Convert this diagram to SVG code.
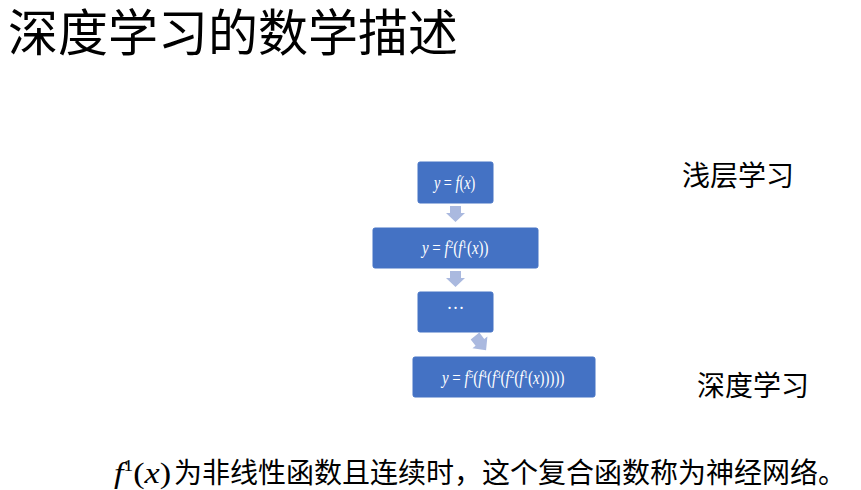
<svg xmlns="http://www.w3.org/2000/svg" width="861" height="490" viewBox="0 0 861 490">
<style>
.cjk{font-family:"Noto Sans CJK SC","Noto Sans CJK JP",sans-serif;fill:#000}
.box{fill:#4472C4;stroke:#4472C4;stroke-width:1}
.btxt{font-family:"Liberation Serif",serif;font-size:18px;fill:#fff}
.it{font-style:italic}
.arr{fill:#AAB9DF}
.math{font-family:"Liberation Serif",serif;font-size:30px;fill:#000}
</style>
<rect width="861" height="490" fill="#fff"/>
<text class="cjk" x="8" y="51" font-size="50">深度学习的数学描述</text>

<g id="connectors">
<polygon class="arr" points="450,206 461,206 461,213 465,213 455.5,222 446,213 450,213"/>
<polygon class="arr" points="450,271 461,271 461,278 465,278 455.5,287 446,278 450,278"/>
<polygon class="arr" transform="translate(475,336) rotate(-38)" points="-5.5,0 5.5,0 5.5,8 9.5,8 0,18 -9.5,8 -5.5,8"/>
</g>

<g id="node1">
<rect class="box" x="418" y="162" width="75" height="41" rx="2"/>
<text class="btxt" transform="translate(434,189) scale(0.79,1)"><tspan class="it">y</tspan> = <tspan class="it">f</tspan>(<tspan class="it">x</tspan>)</text>
</g>
<g id="node2">
<rect class="box" x="373" y="228" width="165" height="40" rx="2"/>
<text class="btxt" transform="translate(422,254) scale(0.83,1)"><tspan class="it">y</tspan> = <tspan class="it">f</tspan><tspan font-size="11" dy="-6">2</tspan><tspan dy="6">(</tspan><tspan class="it">f</tspan><tspan font-size="11" dy="-6">1</tspan><tspan dy="6">(</tspan><tspan class="it">x</tspan>))</text>
</g>
<g id="node3">
<rect class="box" x="418" y="292" width="75" height="40" rx="2"/>
<text class="btxt" x="455.5" y="314" text-anchor="middle">···</text>
</g>
<g id="node4">
<rect class="box" x="413" y="357" width="182" height="40" rx="2"/>
<text class="btxt" transform="translate(442,384) scale(0.83,1)"><tspan class="it">y</tspan> = <tspan class="it">f</tspan><tspan font-size="11" dy="-6">5</tspan><tspan dy="6">(</tspan><tspan class="it">f</tspan><tspan font-size="11" dy="-6">4</tspan><tspan dy="6">(</tspan><tspan class="it">f</tspan><tspan font-size="11" dy="-6">3</tspan><tspan dy="6">(</tspan><tspan class="it">f</tspan><tspan font-size="11" dy="-6">2</tspan><tspan dy="6">(</tspan><tspan class="it">f</tspan><tspan font-size="11" dy="-6">1</tspan><tspan dy="6">(</tspan><tspan class="it">x</tspan>)))))</text>
</g>

<text class="cjk" x="682" y="186" font-size="28">浅层学习</text>
<text class="cjk" x="697" y="396" font-size="28">深度学习</text>

<text class="math" transform="translate(114,483) scale(1.14,1)"><tspan class="it">f</tspan><tspan font-size="17" dy="-12">1</tspan><tspan dy="12">(</tspan><tspan class="it">x</tspan>)</text>
<text class="cjk" x="174" y="483" font-size="28">为非线性函数且连续时，这个复合函数称为神经网络。</text>
</svg>
